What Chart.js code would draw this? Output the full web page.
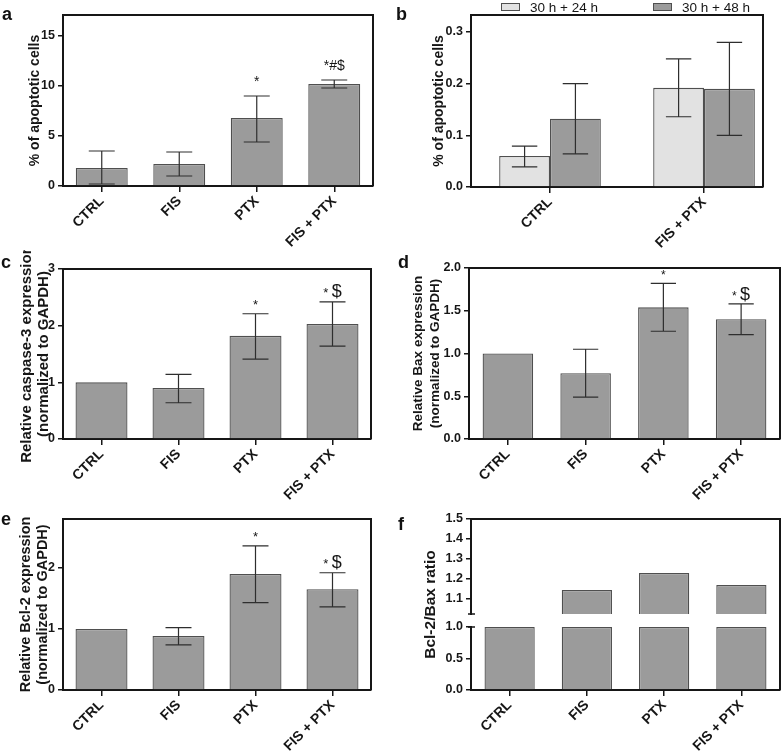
<!DOCTYPE html>
<html>
<head>
<meta charset="utf-8">
<script src="https://cdn.jsdelivr.net/npm/chart.js@4.4.1/dist/chart.umd.min.js"></script>
<style>
  body { margin: 0; background: #fff; }
  #page { position: relative; width: 784px; height: 751px; overflow: hidden; background: #fff; }
  .panel { position: absolute; }
  .tag { position: absolute; font: bold 18px "Liberation Sans", Arial, sans-serif; line-height: 18px; color: #111; }
</style>
</head>
<body>
<div id="page">
  <div class="panel" style="left:0;top:0"><canvas id="chartA" width="392" height="250"></canvas></div>
  <div class="panel" style="left:392px;top:0"><canvas id="chartB" width="392" height="250"></canvas></div>
  <div class="panel" style="left:0;top:250px"><canvas id="chartC" width="392" height="250"></canvas></div>
  <div class="panel" style="left:392px;top:250px"><canvas id="chartD" width="392" height="250"></canvas></div>
  <div class="panel" style="left:0;top:500px"><canvas id="chartE" width="392" height="251"></canvas></div>
  <div class="panel" style="left:392px;top:500px"><canvas id="chartF" width="392" height="251"></canvas></div>
  <div class="tag" style="left:2px;top:5px">a</div>
  <div class="tag" style="left:396px;top:5px">b</div>
  <div class="tag" style="left:1px;top:253px">c</div>
  <div class="tag" style="left:398px;top:253px">d</div>
  <div class="tag" style="left:1px;top:510px">e</div>
  <div class="tag" style="left:398px;top:515px">f</div>
</div>
<script>
// groups shared by a, c, d, e, f
const groups = ["CTRL", "FIS", "PTX", "FIS + PTX"];

// a - % of apoptotic cells
const apopMean = [1.8, 2.2, 6.8, 10.2];
const apopLow = [0.2, 1.0, 4.4, 9.8];
const apopHigh = [3.5, 3.4, 9.0, 10.6];
const apopMarks = ["", "", "*", "*#$"];
const apopTicks = [0, 5, 10, 15];

// b - time course, two series
const timeGroups = ["CTRL", "FIS + PTX"];
const timeSeries = ["30 h + 24 h", "30 h + 48 h"];
const time24Mean = [0.06, 0.192];
const time24Low = [0.039, 0.136];
const time24High = [0.079, 0.248];
const time48Mean = [0.132, 0.19];
const time48Low = [0.064, 0.1];
const time48High = [0.2, 0.28];
const timeTicks = [0, 0.1, 0.2, 0.3];

// c - caspase-3
const caspMean = [1.0, 0.9, 1.82, 2.03];
const caspLow = [null, 0.64, 1.41, 1.64];
const caspHigh = [null, 1.14, 2.21, 2.42];
const caspMarks = ["", "", "*", "* $"];
const caspTicks = [0, 1, 2, 3];

// d - Bax
const baxMean = [1.0, 0.77, 1.54, 1.4];
const baxLow = [null, 0.49, 1.26, 1.22];
const baxHigh = [null, 1.05, 1.82, 1.58];
const baxMarks = ["", "", "*", "* $"];
const baxTicks = [0, 0.5, 1.0, 1.5, 2.0];

// e - Bcl-2
const bclMean = [1.0, 0.885, 1.9, 1.65];
const bclLow = [null, 0.74, 1.43, 1.36];
const bclHigh = [null, 1.02, 2.36, 1.92];
const bclMarks = ["", "", "*", "* $"];
const bclTicks = [0, 1, 2];

// f - Bcl-2/Bax ratio, broken axis
const ratioVal = [1.0, 1.145, 1.23, 1.17];
const ratioLowTicks = [0, 0.5, 1.0];
const ratioHighTicks = [1.1, 1.2, 1.3, 1.4, 1.5];
const ratioBreak = 1.0; // lower part ends here
const ratioResume = 1.025; // upper part starts here

const FONT = "'Liberation Sans', Arial, Helvetica, sans-serif";
const INK = "#161616";
const BAR = "#9b9b9b";
const BAR_LIGHT = "#e2e2e2";
const BAR_EDGE = "#4f4f4f";
const TICK_FONT = { family: FONT, size: 12.5, weight: "bold" };
const XTICK_FONT = { family: FONT, size: 14, weight: "bold" };

Chart.defaults.font.family = FONT;
Chart.defaults.color = INK;

// error bars, drawn from errLow / errHigh on each dataset
const errorBars = {
  id: "errorBars",
  afterDatasetsDraw(chart) {
    const ctx = chart.ctx;
    chart.data.datasets.forEach((ds, di) => {
      if (!ds.errLow) return;
      const meta = chart.getDatasetMeta(di);
      const ys = chart.scales[meta.yAxisID];
      meta.data.forEach((bar, i) => {
        if (ds.errLow[i] == null) return;
        const lo = ys.getPixelForValue(ds.errLow[i]);
        const hi = ys.getPixelForValue(ds.errHigh[i]);
        const cap = bar.width * 0.25;
        ctx.save();
        ctx.strokeStyle = "#2e2e2e";
        ctx.lineWidth = 1.2;
        ctx.beginPath();
        ctx.moveTo(bar.x, lo); ctx.lineTo(bar.x, hi);
        ctx.moveTo(bar.x - cap, hi); ctx.lineTo(bar.x + cap, hi);
        ctx.moveTo(bar.x - cap, lo); ctx.lineTo(bar.x + cap, lo);
        ctx.stroke();
        ctx.restore();
      });
    });
  },
};

// significance marks above the error bars
const sigMarks = {
  id: "sigMarks",
  afterDatasetsDraw(chart, args, opts) {
    const ds = chart.data.datasets[0];
    if (!ds.marks) return;
    const ctx = chart.ctx;
    const meta = chart.getDatasetMeta(0);
    const ys = chart.scales[meta.yAxisID];
    meta.data.forEach((bar, i) => {
      const txt = ds.marks[i];
      if (!txt) return;
      const top = ys.getPixelForValue(ds.errHigh ? ds.errHigh[i] : ds.data[i]);
      const base = top - opts.gap;
      const chars = [...txt];
      const sizes = chars.map((c) => (c === "$" ? opts.big : opts.small));
      const widths = chars.map((c, k) => {
        ctx.font = sizes[k] + "px " + FONT;
        return ctx.measureText(c).width;
      });
      let x = bar.x - widths.reduce((a, b) => a + b, 0) / 2;
      ctx.save();
      ctx.fillStyle = INK;
      ctx.textBaseline = "alphabetic";
      chars.forEach((c, k) => {
        ctx.font = sizes[k] + "px " + FONT;
        ctx.fillText(c, x, base);
        x += widths[k];
      });
      ctx.restore();
    });
  },
};

// top and right edges of the plot box
const frame = {
  id: "frame",
  afterDraw(chart) {
    const { left, top, right, bottom } = chart.chartArea;
    const ctx = chart.ctx;
    ctx.save();
    ctx.strokeStyle = INK;
    ctx.lineWidth = 2;
    ctx.beginPath();
    ctx.moveTo(left, top); ctx.lineTo(right, top); ctx.lineTo(right, bottom);
    ctx.stroke();
    ctx.restore();
  },
};

// legend of panel b
const boxLegend = {
  id: "boxLegend",
  afterDraw(chart, args, opts) {
    const ctx = chart.ctx;
    ctx.save();
    chart.data.datasets.forEach((ds, i) => {
      const x = opts.x[i];
      ctx.fillStyle = ds.backgroundColor;
      ctx.fillRect(x, opts.y - 4, 19, 8);
      ctx.strokeStyle = ds.borderColor;
      ctx.lineWidth = 1;
      ctx.strokeRect(x + 0.5, opts.y - 3.5, 18, 7);
      ctx.fillStyle = INK;
      ctx.font = "13.5px " + FONT;
      ctx.textBaseline = "middle";
      ctx.fillText(ds.label, x + 29, opts.y + 1);
    });
    ctx.restore();
  },
};

// gap in the y axis line of panel f
const axisBreak = {
  id: "axisBreak",
  afterDraw(chart) {
    const ctx = chart.ctx;
    const lo = chart.scales.y;
    const hi = chart.scales.yUp;
    const x = chart.chartArea.left;
    const yTop = hi.bottom;
    const yBot = lo.getPixelForValue(ratioBreak);
    ctx.save();
    ctx.fillStyle = "#fff";
    ctx.fillRect(x - 2, yTop + 1, 4, yBot - yTop - 2);
    ctx.strokeStyle = INK;
    ctx.lineWidth = 1.5;
    ctx.beginPath();
    ctx.moveTo(x - 3, yTop); ctx.lineTo(x + 4, yTop);
    ctx.moveTo(x - 3, yBot); ctx.lineTo(x + 4, yBot);
    ctx.stroke();
    ctx.restore();
  },
};

function padFor(g) {
  return { left: g.padL, top: g.top, right: g.w - g.right, bottom: 0 };
}

function xAxis(g) {
  return {
    grid: { drawOnChartArea: false, color: INK, lineWidth: 1.5, tickLength: 6, offset: false },
    border: { color: INK, width: 2 },
    ticks: { font: XTICK_FONT, color: INK, maxRotation: 45, minRotation: 45, autoSkip: false, padding: 1 },
    afterFit: (s) => { s.height = g.h - g.bottom; },
  };
}

function yAxis(g, max, ticks, digits, title, titleSize, lineHeight) {
  return {
    min: 0,
    max: max,
    afterBuildTicks: (s) => { s.ticks = ticks.map((v) => ({ value: v })); },
    ticks: { font: TICK_FONT, color: INK, padding: 3, autoSkip: false, callback: (v) => Number(v).toFixed(digits) },
    grid: { drawOnChartArea: false, color: INK, lineWidth: 1.5, tickLength: 5 },
    border: { color: INK, width: 2 },
    title: {
      display: true, text: title, color: INK, padding: 0,
      font: { family: FONT, size: titleSize, weight: "bold", lineHeight: lineHeight },
    },
    afterFit: (s) => { s.width = g.left - g.padL; },
  };
}

function barSet(mean, low, high, marks, barPct) {
  return {
    data: mean,
    backgroundColor: BAR,
    borderColor: BAR_EDGE,
    borderWidth: 1.3,
    barPercentage: barPct,
    categoryPercentage: 1,
    errLow: low,
    errHigh: high,
    marks: marks,
  };
}

const baseOptions = {
  responsive: false,
  animation: false,
  events: [],
};

function singlePanel(id, g, set, y, markOpts) {
  return new Chart(document.getElementById(id), {
    type: "bar",
    data: { labels: groups, datasets: [set] },
    options: {
      ...baseOptions,
      layout: { padding: padFor(g) },
      plugins: {
        legend: { display: false },
        tooltip: { enabled: false },
        sigMarks: markOpts,
      },
      scales: { x: xAxis(g), y: y },
    },
    plugins: [errorBars, sigMarks, frame],
  });
}

// a
const geoA = { padL: 27, left: 63, top: 15, right: 373, bottom: 186, w: 392, h: 250 };
singlePanel("chartA", geoA,
  barSet(apopMean, apopLow, apopHigh, apopMarks, 0.67),
  yAxis(geoA, 17.1, apopTicks, 0, "% of apoptotic cells", 14, 1.2),
  { gap: 10, small: 14, big: 14 });

// b
const geoB = { padL: 39, left: 79, top: 15, right: 371, bottom: 187, w: 392, h: 250 };
new Chart(document.getElementById("chartB"), {
  type: "bar",
  data: {
    datasets: [
      {
        label: timeSeries[0],
        data: time24Mean.map((v, i) => ({ x: i, y: v })),
        backgroundColor: BAR_LIGHT, borderColor: BAR_EDGE, borderWidth: 1.3,
        barPercentage: 1, categoryPercentage: 0.66,
        errLow: time24Low, errHigh: time24High,
      },
      {
        label: timeSeries[1],
        data: time48Mean.map((v, i) => ({ x: i, y: v })),
        backgroundColor: BAR, borderColor: BAR_EDGE, borderWidth: 1.3,
        barPercentage: 1, categoryPercentage: 0.66,
        errLow: time48Low, errHigh: time48High,
      },
    ],
  },
  options: {
    ...baseOptions,
    layout: { padding: padFor(geoB) },
    plugins: {
      legend: { display: false },
      tooltip: { enabled: false },
      boxLegend: { x: [109, 261], y: 7 },
    },
    scales: {
      x: {
        ...xAxis(geoB),
        type: "linear",
        offset: false,
        min: -0.513,
        max: 1.383,
        afterBuildTicks: (s) => { s.ticks = timeGroups.map((t, i) => ({ value: i })); },
        ticks: { ...xAxis(geoB).ticks, callback: (v) => timeGroups[v] },
      },
      y: yAxis(geoB, 0.333, timeTicks, 1, "% of apoptotic cells", 14, 1.2),
    },
  },
  plugins: [errorBars, frame, boxLegend],
});

// c
const geoC = { padL: 18, left: 63, top: 19, right: 371, bottom: 189, w: 392, h: 250 };
singlePanel("chartC", geoC,
  barSet(caspMean, caspLow, caspHigh, caspMarks, 0.675),
  yAxis(geoC, 3, caspTicks, 0, ["Relative caspase-3 expression", "(normalized to GAPDH)"], 15, 1.13),
  { gap: 5, small: 13, big: 18 });

// d
const geoD = { padL: 18, left: 77, top: 18, right: 388, bottom: 189, w: 392, h: 250 };
singlePanel("chartD", geoD,
  barSet(baxMean, baxLow, baxHigh, baxMarks, 0.65),
  yAxis(geoD, 2, baxTicks, 1, ["Relative Bax expression", "(normalized to GAPDH)"], 13.5, 1.26),
  { gap: 4, small: 12, big: 18 });

// e
const geoE = { padL: 18, left: 63, top: 19, right: 371, bottom: 190, w: 392, h: 251 };
singlePanel("chartE", geoE,
  barSet(bclMean, bclLow, bclHigh, bclMarks, 0.675),
  yAxis(geoE, 2.8, bclTicks, 0, ["Relative Bcl-2 expression", "(normalized to GAPDH)"], 14.5, 1.17),
  { gap: 5, small: 13, big: 18 });

// f - two stacked y scales make the broken axis
const geoF = { padL: 29, left: 79, top: 19, right: 388, bottom: 190, w: 392, h: 251 };
const titleW = 15;
const lowerY = yAxis({ left: geoF.left, padL: geoF.padL + titleW }, 1.206, ratioLowTicks, 1, "", 12, 1.2);
lowerY.title = { display: false };
lowerY.stack = "ratio";
lowerY.stackWeight = 76;
lowerY.weight = 1;
lowerY.position = "left";
const upperY = yAxis({ left: geoF.left, padL: geoF.padL + titleW }, 1.5, ratioHighTicks, 1, "", 12, 1.2);
upperY.min = ratioResume;
upperY.title = { display: false };
upperY.stack = "ratio";
upperY.stackWeight = 95;
upperY.weight = 2;
upperY.position = "left";

new Chart(document.getElementById("chartF"), {
  type: "bar",
  data: {
    labels: groups,
    datasets: [
      {
        data: ratioVal.map((v) => Math.min(v, ratioBreak)),
        yAxisID: "y",
        grouped: false,
        backgroundColor: BAR, borderColor: BAR_EDGE, borderWidth: 1.3,
        barPercentage: 0.65, categoryPercentage: 1,
      },
      {
        data: ratioVal.map((v) => (v > ratioBreak ? v : null)),
        yAxisID: "yUp",
        grouped: false,
        base: ratioResume,
        backgroundColor: BAR, borderColor: BAR_EDGE, borderWidth: 1.3,
        barPercentage: 0.65, categoryPercentage: 1,
      },
    ],
  },
  options: {
    ...baseOptions,
    layout: { padding: padFor(geoF) },
    plugins: { legend: { display: false }, tooltip: { enabled: false } },
    scales: {
      x: xAxis(geoF),
      y: lowerY,
      yUp: upperY,
      yTitle: {
        type: "linear",
        position: "left",
        weight: 3,
        grid: { display: false },
        border: { display: false },
        ticks: { display: false },
        title: {
          display: true, text: "Bcl-2/Bax ratio", color: INK, padding: 0,
          font: { family: FONT, size: 15.5, weight: "bold", lineHeight: 1.2 },
        },
        afterFit: (s) => { s.width = titleW; },
      },
    },
  },
  plugins: [frame, axisBreak],
});
</script>
</body>
</html>
